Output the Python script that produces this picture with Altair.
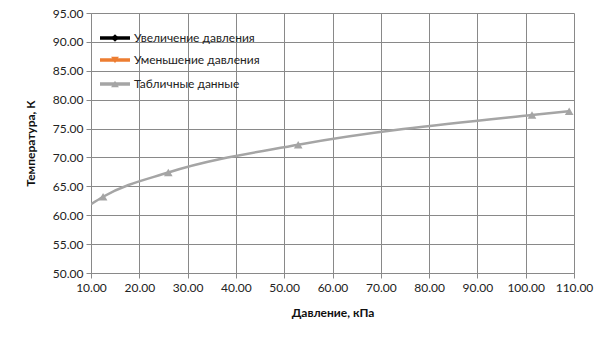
import altair as alt
import pandas as pd

# Tabulated data (pressure kPa, temperature K)
pressure = [12.5, 26.0, 52.9, 101.3, 109.0]
temperature = [63.2, 67.4, 72.2, 77.35, 78.0]
# line (smooth) starts at left edge of the axis
line_pressure = [10.0, 12.5, 26.0, 52.9, 101.3, 109.0]
line_temperature = [61.9, 63.2, 67.4, 72.2, 77.35, 78.0]

x_ticks = [10, 20, 30, 40, 50, 60, 70, 80, 90, 100, 110]
y_ticks = [50, 55, 60, 65, 70, 75, 80, 85, 90, 95]

series_names = ["Увеличение давления", "Уменьшение давления", "Табличные данные"]
series_colors = ["#000000", "#ED7D31", "#A5A5A5"]
series_shapes = ["diamond", "triangle-down", "triangle-up"]

FONT = "Lato"
GRID = "#898989"

pts = pd.DataFrame({"p": pressure, "t": temperature})
ln = pd.DataFrame({"p": line_pressure, "t": line_temperature})

xscale = alt.Scale(domain=[10, 110], nice=False)
yscale = alt.Scale(domain=[50, 95], nice=False, zero=False)

common = dict(grid=True, gridColor=GRID, gridOpacity=1, domainColor=GRID, tickColor=GRID,
              tickSize=5, labelFont=FONT, labelFontSize=12, labelColor="#222",
              labelOverlap=False, labelFlush=False, format=".2f",
              titleFont=FONT, titleFontSize=12, titleFontWeight="bold", titleColor="#111")
xaxis = alt.Axis(title="Давление, кПа", values=x_ticks, titlePadding=14, labelPadding=4, **common)
yaxis = alt.Axis(title="Температура, К", values=y_ticks, titlePadding=15, labelPadding=3, **common)

X = alt.X("p:Q", scale=xscale, axis=xaxis)
Y = alt.Y("t:Q", scale=yscale, axis=yaxis)

line = alt.Chart(ln).mark_line(color="#A5A5A5", strokeWidth=2.5, interpolate="monotone", clip=True).encode(x=X, y=Y)
markers = alt.Chart(pts).mark_point(shape="triangle-up", filled=True, color="#A5A5A5", size=75, opacity=1).encode(x=X, y=Y)

layers = [line, markers]
leg_rows = [25, 47, 71]
for name, col, shp, yy in zip(series_names, series_colors, series_shapes, leg_rows):
    one = pd.DataFrame({"label": [name]})
    layers.append(alt.Chart(one).mark_rule(color=col, strokeWidth=3.5).encode(
        x=alt.value(9), x2=alt.value(39), y=alt.value(yy)))
    layers.append(alt.Chart(one).mark_point(shape=shp, filled=True, color=col, size=60, opacity=1).encode(
        x=alt.value(24), y=alt.value(yy)))
    layers.append(alt.Chart(one).mark_text(align="left", baseline="middle", font=FONT,
                                           fontSize=12, fontWeight="normal", color="#222").encode(
        x=alt.value(43), y=alt.value(yy), text="label:N"))

chart = alt.layer(*layers).properties(
    width=483, height=260,
    autosize=alt.AutoSizeParams(type="none"),
    padding={"left": 91, "top": 13, "right": 31, "bottom": 67},
    background="white",
).configure_view(stroke=None)

chart.save("out.html", embed_options={"renderer": "svg", "actions": False})
